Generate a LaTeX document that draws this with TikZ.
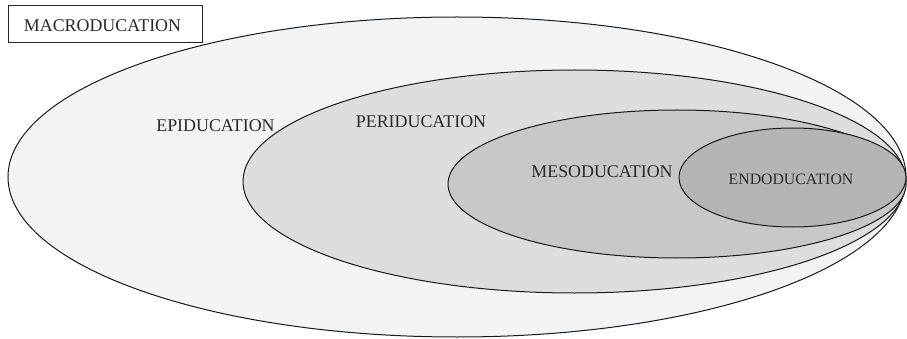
\documentclass[tikz,border=0pt]{standalone}
\usepackage{fontspec}
\setmainfont{Liberation Serif}
\definecolor{cmacro}{HTML}{F2F3F5}
\definecolor{cperi}{HTML}{DCDDDF}
\definecolor{cmeso}{HTML}{C6C7C9}
\definecolor{cendo}{HTML}{B3B4B6}
\definecolor{ctext}{HTML}{2A2A2A}
\begin{document}
\begin{tikzpicture}[x=1pt,y=-1pt,
  ring/.style={draw=black!90,line width=1pt},
  lbl/.style={anchor=base,inner sep=0pt,text=ctext,font=\fontsize{17.9}{20}\selectfont}]
\useasboundingbox (0,0) rectangle (907,339);
\fill[white] (0,0) rectangle (907,339);
\draw[ring,fill=cmacro] (457,177) ellipse [x radius=449, y radius=160];
\draw[ring,fill=cperi] (574.5,181.5) ellipse [x radius=331.5, y radius=111.5];
\draw[ring,fill=cmeso] (677,184) ellipse [x radius=229, y radius=74];
\draw[ring,fill=cendo] (792.5,177.5) ellipse [x radius=113.5, y radius=49.5];
\draw[line width=1pt,draw=black!85,fill=white] (8,6) rectangle (202,43);
\node[lbl] (macro) at (102.5,32) {MACRODUCATION};
\node[lbl] (epi) at (215.5,132) {EPIDUCATION};
\node[lbl] (peri) at (421,128) {PERIDUCATION};
\node[lbl] (meso) at (602,178) {MESODUCATION};
\node[lbl,font=\fontsize{15.8}{18}\selectfont] (endo) at (791,185) {ENDODUCATION};
\end{tikzpicture}
\end{document}
